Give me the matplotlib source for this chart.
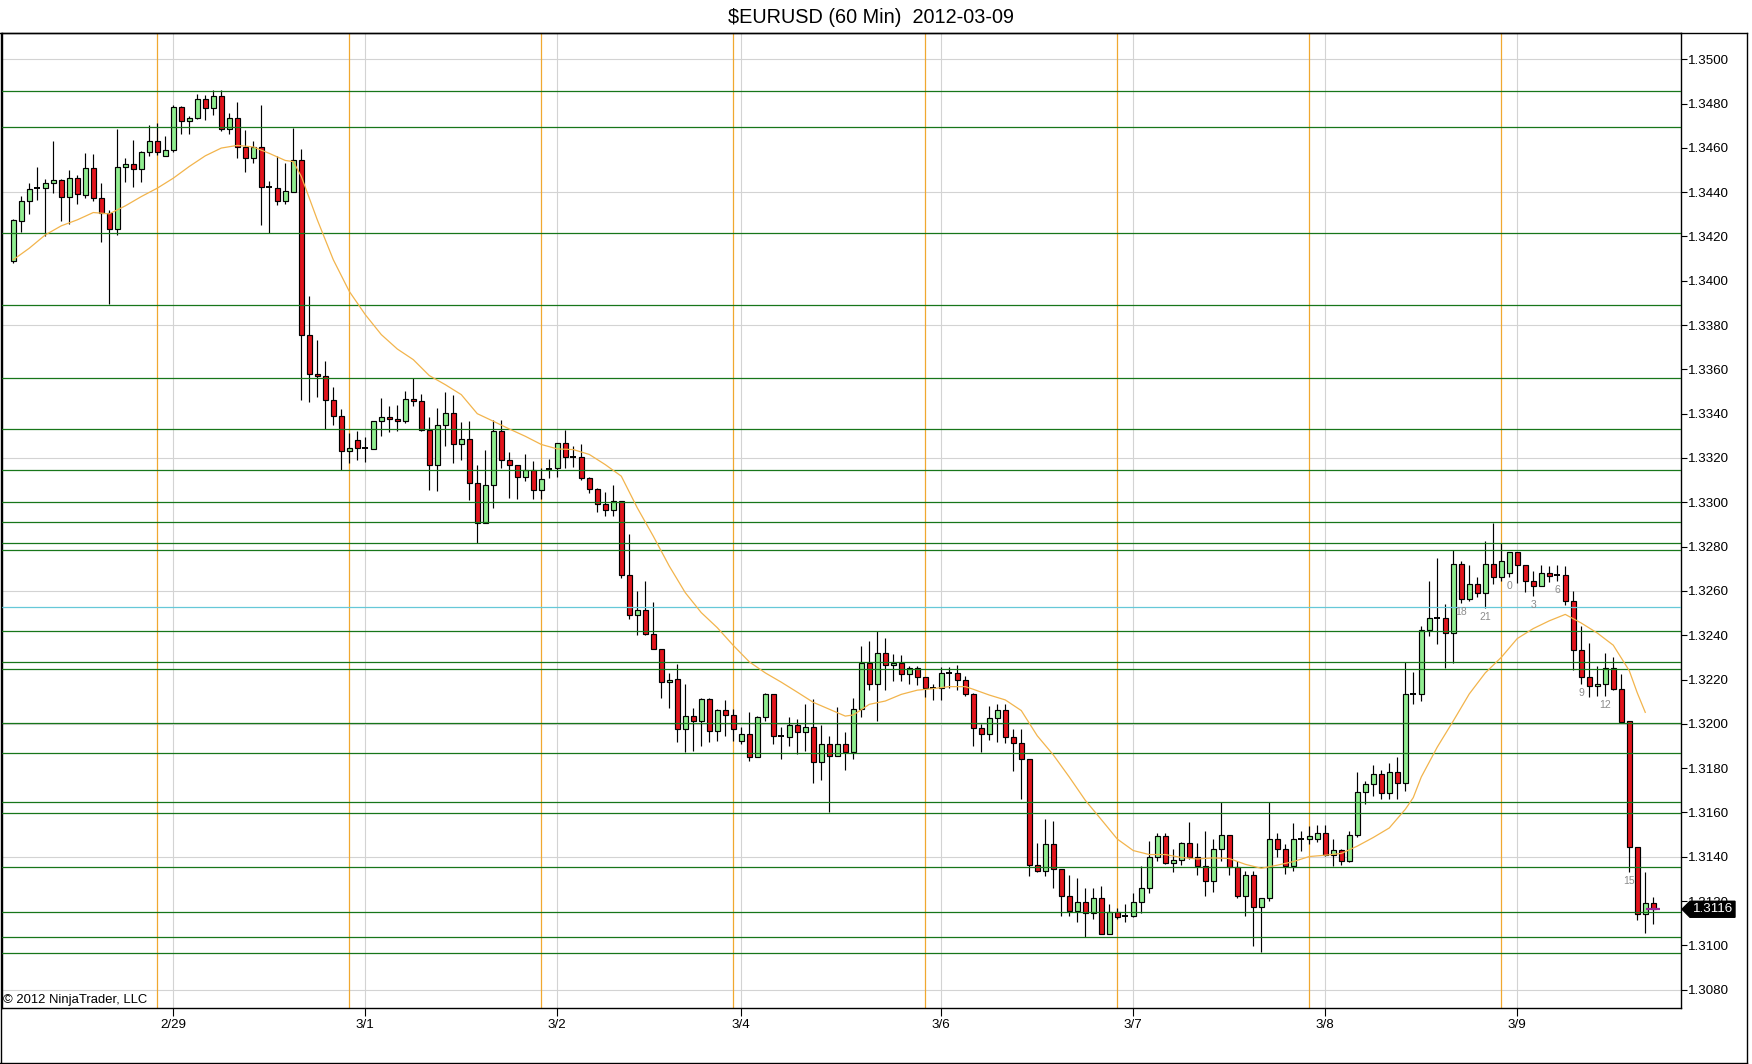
import numpy as np
import matplotlib.pyplot as plt
from matplotlib.patches import Polygon
from matplotlib.lines import Line2D
from matplotlib.ticker import FormatStrFormatter
from matplotlib.transforms import blended_transform_factory, IdentityTransform

plt.rcParams['font.family'] = ['Liberation Sans', 'DejaVu Sans']

# EURUSD 60 min bars, oldest first
opens = [
    1.34087, 1.34272, 1.34358, 1.34418, 1.34418, 1.34441, 1.34456, 1.34380, 1.34463, 1.34388,
    1.34508, 1.34373, 1.34305, 1.34233, 1.34513, 1.34526, 1.34504, 1.34583, 1.34632, 1.34561,
    1.34588, 1.34784, 1.34719, 1.34734, 1.34820, 1.34779, 1.34835, 1.34684, 1.34734, 1.34606,
    1.34553, 1.34606, 1.34421, 1.34418, 1.34358, 1.34400, 1.34546, 1.33753, 1.33579, 1.33571,
    1.33463, 1.33391, 1.33230, 1.33283, 1.33244, 1.33241, 1.33365, 1.33385, 1.33376, 1.33365,
    1.33466, 1.33456, 1.33328, 1.33167, 1.33350, 1.33403, 1.33263, 1.33286, 1.33087, 1.32907,
    1.33080, 1.33320, 1.33192, 1.33170, 1.33114, 1.33144, 1.33057, 1.33152, 1.33155, 1.33268,
    1.33205, 1.33205, 1.33110, 1.33060, 1.32993, 1.32963, 1.33005, 1.32671, 1.32491, 1.32512,
    1.32406, 1.32339, 1.32190, 1.32201, 1.31976, 1.32036, 1.32013, 1.32111, 1.31969, 1.32062,
    1.32040, 1.31923, 1.31952, 1.31852, 1.32032, 1.32133, 1.31943, 1.31939, 1.31997, 1.31964,
    1.31988, 1.31828, 1.31911, 1.31855, 1.31911, 1.31874, 1.32069, 1.32273, 1.32181, 1.32321,
    1.32265, 1.32273, 1.32224, 1.32253, 1.32213, 1.32162, 1.32162, 1.32228, 1.32228, 1.32198,
    1.32133, 1.31983, 1.31953, 1.32028, 1.32063, 1.31942, 1.31915, 1.31843, 1.31362, 1.31334,
    1.31457, 1.31344, 1.31221, 1.31156, 1.31194, 1.31146, 1.31216, 1.31051, 1.31152, 1.31134,
    1.31134, 1.31197, 1.31257, 1.31397, 1.31495, 1.31374, 1.31385, 1.31460, 1.31397, 1.31359,
    1.31292, 1.31437, 1.31500, 1.31352, 1.31221, 1.31317, 1.31171, 1.31212, 1.31482, 1.31437,
    1.31359, 1.31479, 1.31479, 1.31482, 1.31509, 1.31408, 1.31430, 1.31382, 1.31497, 1.31693,
    1.31727, 1.31772, 1.31690, 1.31783, 1.31735, 1.32136, 1.32133, 1.32424, 1.32479, 1.32476,
    1.32412, 1.32722, 1.32565, 1.32629, 1.32592, 1.32722, 1.32664, 1.32682, 1.32775, 1.32719,
    1.32647, 1.32621, 1.32682, 1.32670, 1.32670, 1.32554, 1.32333, 1.32213, 1.32171, 1.32182,
    1.32252, 1.32157, 1.32015, 1.31446, 1.31143, 1.31193,
]
highs = [
    1.34278, 1.34383, 1.34441, 1.34513, 1.34460, 1.34629, 1.34459, 1.34501, 1.34478, 1.34576,
    1.34573, 1.34441, 1.34320, 1.34684, 1.34553, 1.34636, 1.34586, 1.34704, 1.34714, 1.34654,
    1.34794, 1.34790, 1.34744, 1.34844, 1.34839, 1.34859, 1.34859, 1.34759, 1.34806, 1.34681,
    1.34629, 1.34794, 1.34451, 1.34562, 1.34531, 1.34689, 1.34594, 1.33932, 1.33731, 1.33639,
    1.33519, 1.33421, 1.33313, 1.33323, 1.33295, 1.33368, 1.33471, 1.33433, 1.33441, 1.33504,
    1.33561, 1.33490, 1.33385, 1.33426, 1.33498, 1.33486, 1.33361, 1.33368, 1.33170, 1.33238,
    1.33373, 1.33373, 1.33226, 1.33170, 1.33220, 1.33185, 1.33155, 1.33197, 1.33268, 1.33328,
    1.33253, 1.33265, 1.33114, 1.33065, 1.33047, 1.33080, 1.33008, 1.32857, 1.32599, 1.32644,
    1.32549, 1.32339, 1.32229, 1.32269, 1.32178, 1.32073, 1.32115, 1.32115, 1.32069, 1.32106,
    1.32066, 1.31988, 1.32054, 1.32034, 1.32137, 1.32133, 1.31988, 1.32031, 1.32024, 1.32091,
    1.32111, 1.31994, 1.31943, 1.32078, 1.31961, 1.32118, 1.32350, 1.32374, 1.32419, 1.32389,
    1.32314, 1.32310, 1.32263, 1.32263, 1.32213, 1.32179, 1.32258, 1.32258, 1.32264, 1.32216,
    1.32141, 1.31998, 1.32081, 1.32088, 1.32088, 1.31978, 1.31978, 1.31843, 1.31461, 1.31569,
    1.31562, 1.31344, 1.31317, 1.31302, 1.31261, 1.31261, 1.31266, 1.31186, 1.31167, 1.31186,
    1.31236, 1.31359, 1.31472, 1.31509, 1.31506, 1.31434, 1.31467, 1.31557, 1.31464, 1.31517,
    1.31479, 1.31648, 1.31500, 1.31382, 1.31337, 1.31337, 1.31212, 1.31648, 1.31509, 1.31457,
    1.31551, 1.31517, 1.31539, 1.31542, 1.31542, 1.31479, 1.31437, 1.31517, 1.31783, 1.31740,
    1.31813, 1.31790, 1.31825, 1.31850, 1.32279, 1.32234, 1.32442, 1.32644, 1.32749, 1.32539,
    1.32784, 1.32737, 1.32715, 1.32664, 1.32825, 1.32907, 1.32817, 1.32775, 1.32775, 1.32719,
    1.32689, 1.32715, 1.32712, 1.32715, 1.32712, 1.32598, 1.32442, 1.32366, 1.32261, 1.32320,
    1.32302, 1.32227, 1.32015, 1.31446, 1.31330, 1.31219,
]
lows = [
    1.34080, 1.34218, 1.34301, 1.34365, 1.34204, 1.34398, 1.34268, 1.34257, 1.34347, 1.34373,
    1.34358, 1.34173, 1.33897, 1.34207, 1.34444, 1.34423, 1.34448, 1.34561, 1.34568, 1.34561,
    1.34579, 1.34663, 1.34663, 1.34729, 1.34726, 1.34749, 1.34674, 1.34663, 1.34553, 1.34489,
    1.34531, 1.34250, 1.34215, 1.34340, 1.34346, 1.34400, 1.33463, 1.33451, 1.33474, 1.33332,
    1.33350, 1.33147, 1.33177, 1.33189, 1.33180, 1.33241, 1.33298, 1.33316, 1.33323, 1.33358,
    1.33436, 1.33323, 1.33057, 1.33051, 1.33253, 1.33177, 1.33192, 1.33012, 1.32817, 1.32907,
    1.32975, 1.33155, 1.33020, 1.33015, 1.33095, 1.33015, 1.33015, 1.33110, 1.33114, 1.33155,
    1.33159, 1.33102, 1.33042, 1.32955, 1.32937, 1.32940, 1.32659, 1.32471, 1.32399, 1.32399,
    1.32339, 1.32118, 1.32071, 1.31916, 1.31874, 1.31878, 1.31901, 1.31916, 1.31923, 1.31946,
    1.31923, 1.31908, 1.31833, 1.31852, 1.32013, 1.31908, 1.31843, 1.31901, 1.31863, 1.31878,
    1.31731, 1.31747, 1.31603, 1.31855, 1.31792, 1.31843, 1.32031, 1.32153, 1.32013, 1.32153,
    1.32193, 1.32193, 1.32181, 1.32174, 1.32122, 1.32108, 1.32108, 1.32163, 1.32153, 1.32126,
    1.31900, 1.31873, 1.31927, 1.31918, 1.31915, 1.31787, 1.31660, 1.31311, 1.31332, 1.31314,
    1.31261, 1.31131, 1.31134, 1.31107, 1.31039, 1.31119, 1.31051, 1.31051, 1.31119, 1.31107,
    1.31130, 1.31146, 1.31236, 1.31382, 1.31367, 1.31332, 1.31362, 1.31389, 1.31317, 1.31221,
    1.31239, 1.31382, 1.31317, 1.31212, 1.31134, 1.30996, 1.30969, 1.31201, 1.31401, 1.31322,
    1.31337, 1.31427, 1.31457, 1.31467, 1.31404, 1.31359, 1.31362, 1.31377, 1.31491, 1.31637,
    1.31675, 1.31660, 1.31660, 1.31662, 1.31697, 1.32088, 1.32103, 1.32397, 1.32359, 1.32254,
    1.32276, 1.32547, 1.32554, 1.32574, 1.32524, 1.32629, 1.32644, 1.32662, 1.32637, 1.32595,
    1.32577, 1.32621, 1.32640, 1.32644, 1.32535, 1.32243, 1.32179, 1.32121, 1.32126, 1.32127,
    1.32154, 1.32010, 1.31330, 1.31113, 1.31057, 1.31095,
]
closes = [
    1.34275, 1.34361, 1.34415, 1.34418, 1.34441, 1.34456, 1.34380, 1.34463, 1.34391, 1.34508,
    1.34373, 1.34305, 1.34233, 1.34513, 1.34526, 1.34504, 1.34583, 1.34632, 1.34579, 1.34591,
    1.34784, 1.34719, 1.34734, 1.34820, 1.34779, 1.34835, 1.34684, 1.34734, 1.34606, 1.34553,
    1.34606, 1.34421, 1.34421, 1.34358, 1.34406, 1.34546, 1.33753, 1.33579, 1.33568, 1.33463,
    1.33391, 1.33230, 1.33245, 1.33245, 1.33244, 1.33368, 1.33385, 1.33376, 1.33365, 1.33466,
    1.33456, 1.33328, 1.33167, 1.33350, 1.33403, 1.33263, 1.33286, 1.33087, 1.32907, 1.33080,
    1.33320, 1.33192, 1.33170, 1.33114, 1.33144, 1.33057, 1.33105, 1.33152, 1.33268, 1.33205,
    1.33205, 1.33110, 1.33060, 1.32993, 1.32963, 1.33005, 1.32671, 1.32491, 1.32512, 1.32406,
    1.32339, 1.32190, 1.32200, 1.31976, 1.32036, 1.32013, 1.32111, 1.31969, 1.32062, 1.32040,
    1.31976, 1.31952, 1.31852, 1.32032, 1.32133, 1.31943, 1.31943, 1.31997, 1.31964, 1.31988,
    1.31828, 1.31911, 1.31855, 1.31911, 1.31874, 1.32069, 1.32273, 1.32181, 1.32321, 1.32265,
    1.32273, 1.32224, 1.32253, 1.32213, 1.32163, 1.32162, 1.32231, 1.32228, 1.32198, 1.32133,
    1.31983, 1.31953, 1.32028, 1.32063, 1.31942, 1.31915, 1.31843, 1.31362, 1.31334, 1.31457,
    1.31344, 1.31221, 1.31156, 1.31194, 1.31146, 1.31216, 1.31051, 1.31152, 1.31126, 1.31134,
    1.31197, 1.31257, 1.31397, 1.31495, 1.31374, 1.31385, 1.31460, 1.31397, 1.31359, 1.31292,
    1.31437, 1.31500, 1.31352, 1.31221, 1.31317, 1.31171, 1.31212, 1.31482, 1.31437, 1.31359,
    1.31482, 1.31479, 1.31494, 1.31509, 1.31408, 1.31430, 1.31382, 1.31497, 1.31693, 1.31727,
    1.31772, 1.31690, 1.31783, 1.31735, 1.32136, 1.32136, 1.32424, 1.32479, 1.32479, 1.32412,
    1.32722, 1.32565, 1.32629, 1.32592, 1.32722, 1.32664, 1.32734, 1.32775, 1.32719, 1.32647,
    1.32621, 1.32682, 1.32667, 1.32670, 1.32554, 1.32333, 1.32213, 1.32171, 1.32181, 1.32252,
    1.32157, 1.32010, 1.31446, 1.31143, 1.31193, 1.31163,
]

# moving average (orange line), read at these bars
ma_bars = [0, 2, 4, 6, 8, 10, 12, 14, 16, 18, 20, 22, 24, 26, 28, 30, 32, 34, 35, 36,
           38, 40, 42, 44, 46, 48, 50, 52, 54, 56, 58, 60, 62, 64, 66, 68, 70, 72, 74, 76,
           78, 80, 82, 84, 86, 88, 90, 92, 94, 96, 98, 100, 102, 104, 105, 107, 109, 111, 113, 115,
           117, 119, 120, 122, 124, 126, 128, 130, 132, 134, 136, 138, 140, 142, 144, 146, 148, 150, 152, 154,
           156, 158, 160, 162, 164, 166, 168, 170, 172, 174, 175, 176, 178, 180, 182, 184, 186, 188, 190, 192,
           194, 196, 198, 200, 202, 203, 204]
ma_vals = [1.34095, 1.34147, 1.34207, 1.34248, 1.34275, 1.34308, 1.34302, 1.34338, 1.34380, 1.34418,
           1.34463, 1.34516, 1.34564, 1.34599, 1.34611, 1.34604, 1.34575, 1.34543, 1.34538, 1.34471,
           1.34275, 1.34095, 1.33952, 1.33847, 1.33757, 1.33692, 1.33644, 1.33572, 1.33531, 1.33486,
           1.33400, 1.33366, 1.33331, 1.33298, 1.33261, 1.33241, 1.33238, 1.33216, 1.33170, 1.33118,
           1.32975, 1.32847, 1.32712, 1.32592, 1.32502, 1.32434, 1.32354, 1.32280, 1.32230, 1.32188,
           1.32143, 1.32097, 1.32066, 1.32035, 1.32040, 1.32088, 1.32103, 1.32133, 1.32152, 1.32159,
           1.32168, 1.32168, 1.32156, 1.32130, 1.32108, 1.32060, 1.31946, 1.31860, 1.31760, 1.31655,
           1.31568, 1.31480, 1.31428, 1.31410, 1.31410, 1.31397, 1.31390, 1.31395, 1.31392, 1.31366,
           1.31348, 1.31362, 1.31378, 1.31401, 1.31407, 1.31415, 1.31448, 1.31487, 1.31530, 1.31614,
           1.31667, 1.31760, 1.31895, 1.32013, 1.32135, 1.32230, 1.32300, 1.32385, 1.32430, 1.32465,
           1.32494, 1.32455, 1.32410, 1.32355, 1.32240, 1.32140, 1.32052]

# drawn horizontal levels
green_levels = [1.34858, 1.34693, 1.34215, 1.33890, 1.33561, 1.33331, 1.33146, 1.33002,
                1.32912, 1.32817, 1.32786, 1.32420, 1.32279, 1.32249, 1.32005, 1.31870,
                1.31647, 1.31599, 1.31354, 1.31151, 1.31036, 1.30964]
cyan_level = 1.32527

session_bars = [18, 42, 66, 90, 114, 138, 162, 186]
date_bars = [20, 44, 68, 91, 116, 140, 164, 188]
date_labels = ['2/29', '3/1', '3/2', '3/4', '3/6', '3/7', '3/8', '3/9']

hour_bars = [181, 184, 187, 190, 193, 196, 199, 202]
hour_labels = ['18', '21', '0', '3', '6', '9', '12', '15']

W, H = 1752, 1064
fig = plt.figure(figsize=(W / 100, H / 100), dpi=100)
ax_left, ax_right, ax_top, ax_bot = 1.5, 1680.7, 33.3, 1008.3
ax = fig.add_axes([ax_left / W, 1 - ax_bot / H, (ax_right - ax_left) / W, (ax_bot - ax_top) / H])

o = np.array(opens)
h = np.array(highs)
l = np.array(lows)
c = np.array(closes)
x = np.arange(len(o))

# background grid and session lines
for yv in np.arange(1.3080, 1.35001, 0.006):
    ax.axhline(yv, color='#d3d3d3', lw=0.8, zorder=0)
for b in date_bars:
    ax.axvline(b, color='#d3d3d3', lw=0.8, zorder=0)
for b in session_bars:
    ax.axvline(b, color='#f0a830', lw=0.9, zorder=1)

# candles
ax.vlines(x, l, h, color='black', lw=0.85, zorder=3)
doji = np.abs(c - o) < 0.00003
body_col = ['#90ee90' if cc > oo else '#e3141c' for oo, cc in zip(o, c)]
ax.bar(x[~doji], np.abs(c - o)[~doji], bottom=np.minimum(o, c)[~doji], width=0.65,
       color=[body_col[i] for i in x[~doji]], edgecolor='black', lw=0.85, zorder=4)
ax.hlines(c[doji], x[doji] - 0.36, x[doji] + 0.36, color='black', lw=1.4, zorder=4)

# drawn levels
for lv in green_levels:
    ax.axhline(lv, color='#17761a', lw=0.9, zorder=5)
ax.axhline(cyan_level, color='#66c8d8', lw=0.9, zorder=5)

# moving average
ax.plot(ma_bars, ma_vals, color='#f2b44c', lw=0.9, zorder=6)

# hour labels under bars
for b, lab in zip(hour_bars, hour_labels):
    ax.text(b, l[b] - 0.0004, lab, ha='center', va='center', fontsize=7.5,
            color='#8c8c8c', zorder=7)

# last price marker
last = c[-1]
ax.hlines(last, x[-1] - 0.9, x[-1] + 0.8, color='#9a2a9a', lw=1.6, zorder=8)

ylo, yhi = 1.30716, 1.35117
ax.set_xlim(-1.475, 208.43)
ax.set_ylim(ylo, yhi)

ax.yaxis.tick_right()
ax.set_yticks(np.arange(1.3080, 1.35001, 0.002))
ax.yaxis.set_major_formatter(FormatStrFormatter('%.4f'))
ax.tick_params(axis='y', direction='out', length=4.5, width=0.8, labelsize=9.6, pad=1)
ax.set_xticks(date_bars)
ax.set_xticklabels(date_labels)
ax.tick_params(axis='x', direction='out', length=5.5, width=0.8, labelsize=9.6, pad=2)
for sp in ax.spines.values():
    sp.set_color('black')
    sp.set_linewidth(1.0)

# price box on the axis
px_per_unit = (ax_bot - ax_top) / (yhi - ylo)
hh = 8.0 / px_per_unit
trans = blended_transform_factory(IdentityTransform(), ax.transData)
box = Polygon([[1682, last], [1690, last + hh], [1735, last + hh], [1735, last - hh], [1690, last - hh]],
              closed=True, transform=trans, facecolor='black', edgecolor='black',
              clip_on=False, zorder=10)
ax.add_patch(box)
ax.text(1713, last, f'{last:.4f}', transform=trans, color='white', ha='center', va='center',
        fontsize=9.6, zorder=11, clip_on=False)
ax.set_ylim(ylo, yhi)

# title, copyright and frame
fig.text(870.8 / W, 1 - 17.5 / H, '$EURUSD (60 Min)  2012-03-09', ha='center', va='center',
         fontsize=14.3)
fig.text(3 / W, 1 - 1000.5 / H, '\u00a9 2012 NinjaTrader, LLC', ha='left', va='center',
         fontsize=9.4)
fig.add_artist(Line2D([0, 1747 / W], [1 - ax_top / H] * 2, color='black', lw=1.0))
fig.add_artist(Line2D([0.5 / W] * 2, [0, 1 - ax_top / H], color='black', lw=1.0))
fig.add_artist(Line2D([0, 1747 / W], [1 - 1062.5 / H] * 2, color='black', lw=1.0))
fig.add_artist(Line2D([1746.5 / W] * 2, [1 - 1062.5 / H, 1 - ax_top / H], color='black', lw=1.0))

fig.savefig('out.png', dpi=100, facecolor='white')
